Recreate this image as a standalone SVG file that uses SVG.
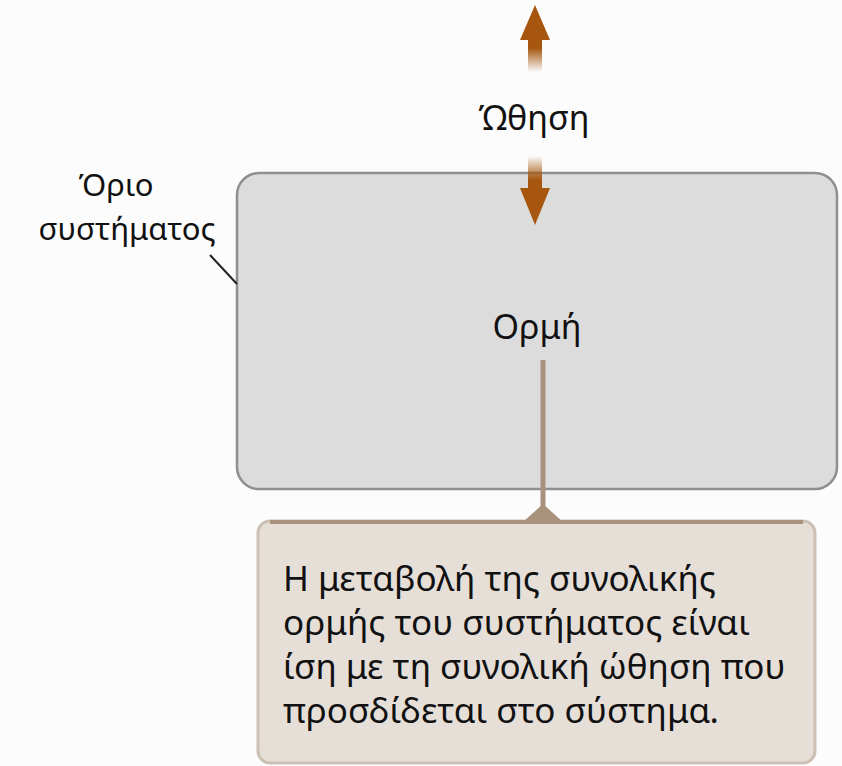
<svg xmlns="http://www.w3.org/2000/svg" width="842" height="766" viewBox="0 0 842 766">
  <defs>
    <style>
      .lbl { font-family: "Noto Sans", "DejaVu Sans", sans-serif; fill: #111; }
      .big { font-size: 34px; }
      .mid { font-size: 31px; }
      .cap { font-size: 35px; }
    </style>
    <linearGradient id="fadeUp" x1="0" y1="1" x2="0" y2="0">
      <stop offset="0" stop-color="#a6560f" stop-opacity="0"/>
      <stop offset="0.7" stop-color="#a6560f" stop-opacity="1"/>
    </linearGradient>
    <linearGradient id="fadeDown" x1="0" y1="0" x2="0" y2="1">
      <stop offset="0" stop-color="#a6560f" stop-opacity="0"/>
      <stop offset="0.7" stop-color="#a6560f" stop-opacity="1"/>
    </linearGradient>
  </defs>

  <rect width="842" height="766" fill="#fcfcfc"/>

  <!-- system boundary -->
  <g id="system">
    <rect x="237" y="173" width="600" height="316" rx="22" fill="#dcdcdc" stroke="#8f8f8f" stroke-width="2.5"/>
    <text class="lbl big" x="537" y="339" text-anchor="middle">Ορμή</text>
  </g>

  <!-- boundary label -->
  <g id="boundary-label">
    <text class="lbl mid" x="116" y="196" text-anchor="middle">Όριο</text>
    <text class="lbl mid" x="127" y="240" text-anchor="middle">συστήματος</text>
  </g>

  <!-- impulse label -->
  <g id="impulse">
    <text class="lbl big" x="534" y="130" text-anchor="middle">Ώθηση</text>
  </g>

  <!-- caption -->
  <g id="caption">
    <rect x="258" y="521" width="557" height="242" rx="12" fill="#e6dfd8" stroke="#cbc0b3" stroke-width="3"/>
    <line x1="270" y1="522" x2="803" y2="522" stroke="#a8927c" stroke-width="4"/>
    <text class="lbl cap" x="283" y="591">Η μεταβολή της συνολικής</text>
    <text class="lbl cap" x="283" y="635">ορμής του συστήματος είναι</text>
    <text class="lbl cap" x="283" y="679">ίση με τη συνολική ώθηση που</text>
    <text class="lbl cap" x="283" y="723">προσδίδεται στο σύστημα.</text>
  </g>

  <!-- connectors -->
  <g id="connectors">
    <!-- outward impulse arrow -->
    <rect x="528" y="38" width="14" height="34" fill="url(#fadeUp)"/>
    <polygon points="520,40 535,5 550,40" fill="#a6560f"/>
    <!-- inward impulse arrow -->
    <rect x="528" y="156" width="14" height="34" fill="url(#fadeDown)"/>
    <polygon points="520,188 535,225 550,188" fill="#a6560f"/>
    <!-- boundary leader -->
    <line x1="210" y1="255" x2="237" y2="284" stroke="#222" stroke-width="2"/>
    <!-- momentum callout pointer -->
    <line x1="543" y1="360" x2="543" y2="510" stroke="#a8927c" stroke-width="5"/>
    <polygon points="523,522 543,504 563,522" fill="#a8927c"/>
  </g>
</svg>
